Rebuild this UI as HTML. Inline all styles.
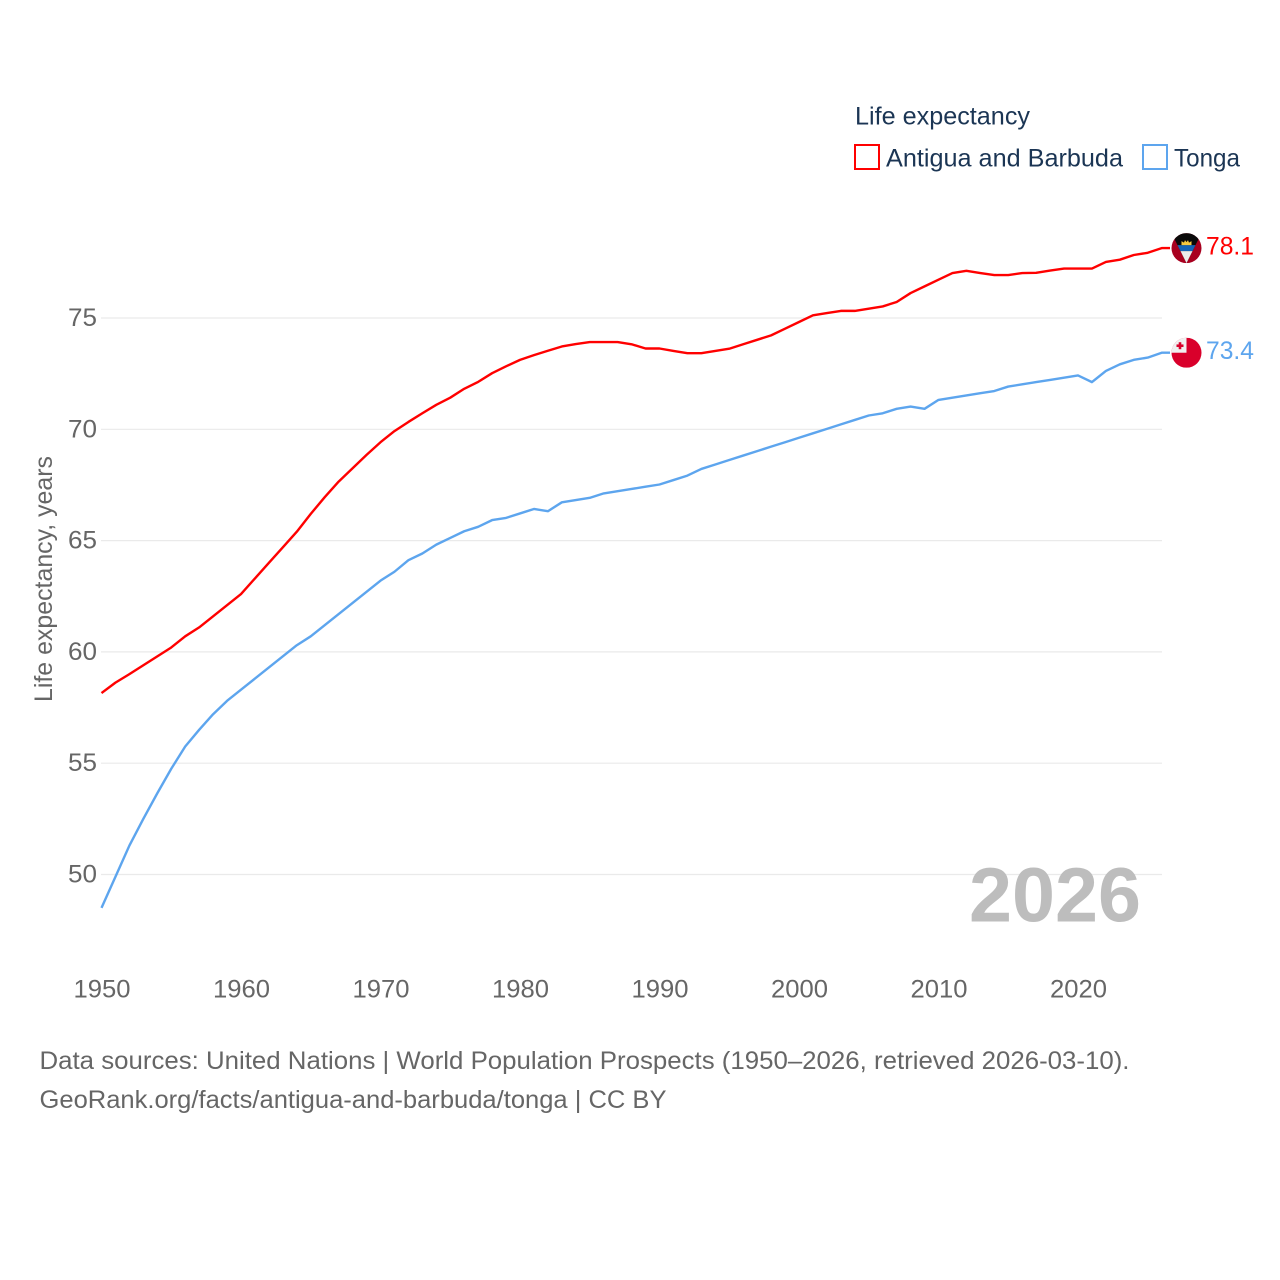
<!DOCTYPE html>
<html lang="en">
<head>
<meta charset="utf-8">
<title>Life expectancy: Antigua and Barbuda vs Tonga</title>
<style>
html,body{margin:0;padding:0;background:#fff;}
svg{display:block;font-family:"Liberation Sans",sans-serif;}
</style>
</head>
<body>
<svg id="chart" width="1280" height="1280" viewBox="0 0 1280 1280" xmlns="http://www.w3.org/2000/svg">
  <defs>
    <clipPath id="flag-clip-ag"><circle cx="0" cy="0" r="15"/></clipPath>
    <clipPath id="flag-clip-to"><circle cx="0" cy="0" r="15"/></clipPath>
  </defs>
  <rect width="1280" height="1280" fill="#fff"/>

  <g id="grid"></g>
  <g id="y-ticks"></g>
  <g id="x-ticks"></g>
  <text x="52" y="579" transform="rotate(-90 52 579)" text-anchor="middle" font-size="25" fill="#666" textLength="246" lengthAdjust="spacingAndGlyphs">Life expectancy, years</text>

  <text x="1141" y="921.5" text-anchor="end" font-size="77" font-weight="700" fill="#bdbdbd" textLength="172" lengthAdjust="spacingAndGlyphs" id="year-label">2026</text>

  <g id="series"></g>

  <g id="flag-ag">
    <g clip-path="url(#flag-clip-ag)">
      <rect x="-15" y="-15" width="30" height="30" fill="#a8001f"/>
      <polygon points="-15,-15 15,-15 0,15" fill="#0a0a0a"/>
      <polygon points="-9,-3 9,-3 6,3 -6,3" fill="#1565b8"/>
      <polygon points="-6,3 6,3 0,15" fill="#ececec"/>
      <polygon points="-5,-3 -5,-7 -2.5,-5.5 -1.5,-8 0,-6 1.5,-8 2.5,-5.5 5,-7 5,-3" fill="#f7c940"/>
    </g>
  </g>
  <g id="flag-to">
    <g clip-path="url(#flag-clip-to)">
      <rect x="-15" y="-15" width="30" height="30" fill="#d9002b"/>
      <rect x="-15" y="-15" width="15" height="15" fill="#f0f0f0"/>
      <rect x="-7.8" y="-10.5" width="2.6" height="7" fill="#d9002b"/>
      <rect x="-10" y="-8.3" width="7" height="2.6" fill="#d9002b"/>
    </g>
  </g>
  <g id="end-labels"></g>

  <g>
    <text x="855" y="124.5" font-size="25" fill="#1b3554" textLength="175" lengthAdjust="spacingAndGlyphs">Life expectancy</text>
    <g>
      <rect x="855" y="145" width="24" height="24" fill="#fff" stroke="#ff0000" stroke-width="2"/>
      <text x="886" y="166.5" font-size="25" fill="#1b3554" textLength="237" lengthAdjust="spacingAndGlyphs">Antigua and Barbuda</text>
    </g>
    <g>
      <rect x="1143" y="145" width="24" height="24" fill="#fff" stroke="#5da5ee" stroke-width="2"/>
      <text x="1174" y="166.5" font-size="25" fill="#1b3554" textLength="66" lengthAdjust="spacingAndGlyphs">Tonga</text>
    </g>
  </g>

  <g>
    <text x="39.5" y="1069" font-size="25" fill="#666" textLength="1090" lengthAdjust="spacingAndGlyphs">Data sources: United Nations | World Population Prospects (1950–2026, retrieved 2026-03-10).</text>
    <text x="39.5" y="1108" font-size="25" fill="#666" textLength="627" lengthAdjust="spacingAndGlyphs">GeoRank.org/facts/antigua-and-barbuda/tonga | CC BY</text>
  </g>
</svg>

<script>
const startYear = 1950;
const yTickValues = [50, 55, 60, 65, 70, 75];
const xTickYears = [1950, 1960, 1970, 1980, 1990, 2000, 2010, 2020];
const antiguaValues = [
  58.15, 58.62, 59.0, 59.4, 59.8, 60.2, 60.7, 61.1, 61.6, 62.1,
  62.6, 63.3, 64.0, 64.7, 65.4, 66.2, 66.95, 67.65, 68.25, 68.85,
  69.42, 69.92, 70.33, 70.72, 71.1, 71.42, 71.82, 72.13, 72.52, 72.83,
  73.12, 73.33, 73.53, 73.72, 73.83, 73.92, 73.92, 73.92, 73.82, 73.63,
  73.63, 73.52, 73.42, 73.42, 73.52, 73.62, 73.82, 74.02, 74.22, 74.52,
  74.82, 75.12, 75.22, 75.32, 75.32, 75.42, 75.52, 75.72, 76.12, 76.42,
  76.72, 77.02, 77.12, 77.02, 76.93, 76.93, 77.02, 77.03, 77.13, 77.22,
  77.22, 77.22, 77.52, 77.62, 77.83, 77.93, 78.14
];
const tongaValues = [
  48.5, 49.9, 51.3, 52.5, 53.65, 54.75, 55.75, 56.5, 57.2, 57.8,
  58.3, 58.8, 59.3, 59.8, 60.3, 60.7, 61.2, 61.7, 62.2, 62.7,
  63.2, 63.6, 64.12, 64.42, 64.82, 65.12, 65.42, 65.62, 65.92, 66.02,
  66.22, 66.42, 66.32, 66.72, 66.82, 66.92, 67.12, 67.22, 67.32, 67.42,
  67.52, 67.72, 67.92, 68.22, 68.42, 68.62, 68.82, 69.02, 69.22, 69.42,
  69.62, 69.82, 70.02, 70.22, 70.42, 70.62, 70.72, 70.92, 71.02, 70.92,
  71.32, 71.42, 71.52, 71.62, 71.72, 71.92, 72.02, 72.12, 72.22, 72.32,
  72.42, 72.12, 72.62, 72.92, 73.12, 73.22, 73.44
];

const NS = 'http://www.w3.org/2000/svg';
const xScale = year => 101.5 + (year - 1950) * 13.95;
const yScale = value => 874.5 - (value - 50) * 22.26;
const plotRight = 1162;
const stubEnd = 1170;
const flagX = 1186.5;

function make(tag, attrs, parent) {
  const el = document.createElementNS(NS, tag);
  for (const k in attrs) el.setAttribute(k, attrs[k]);
  parent.appendChild(el);
  return el;
}

const grid = document.getElementById('grid');
const yTicks = document.getElementById('y-ticks');
const xTicks = document.getElementById('x-ticks');
const seriesGroup = document.getElementById('series');
const endLabels = document.getElementById('end-labels');

yTickValues.forEach(v => {
  const line = make('line', {x1: 101, x2: plotRight, y1: yScale(v), y2: yScale(v), stroke: '#eaeaea', 'stroke-width': 1.2}, grid);
  
  
  const label = make('text', {x: 97, y: yScale(v) + 8, 'text-anchor': 'end', 'font-size': 25, fill: '#666', textLength: 29, lengthAdjust: 'spacingAndGlyphs'}, yTicks);
  label.textContent = v;
  
  
});

xTickYears.forEach(y => {
  const label = make('text', {x: xScale(y) - 28, y: 997.5, 'font-size': 25, fill: '#666', textLength: 57, lengthAdjust: 'spacingAndGlyphs'}, xTicks);
  label.textContent = y;
  
  
});

function drawSeries(values, color, key, flagId) {
  const pts = values.map((v, i) => xScale(startYear + i).toFixed(2) + ',' + yScale(v).toFixed(2));
  const last = values[values.length - 1];
  pts.push(stubEnd + ',' + yScale(last).toFixed(2));
  const line = make('polyline', {points: pts.join(' '), fill: 'none', stroke: color, 'stroke-width': 2.4, 'stroke-linejoin': 'round'}, seriesGroup);
  
  
  document.getElementById(flagId).setAttribute('transform', 'translate(' + flagX + ' ' + yScale(last) + ')');
  const label = make('text', {x: 1206, y: yScale(last) + 6.5, 'font-size': 25, fill: color, textLength: 48, lengthAdjust: 'spacingAndGlyphs'}, endLabels);
  label.textContent = last.toFixed(1);
  
  
}

drawSeries(antiguaValues, '#ff0000', 'antigua-and-barbuda', 'flag-ag');
drawSeries(tongaValues, '#5da5ee', 'tonga', 'flag-to');
</script>
</body>
</html>
